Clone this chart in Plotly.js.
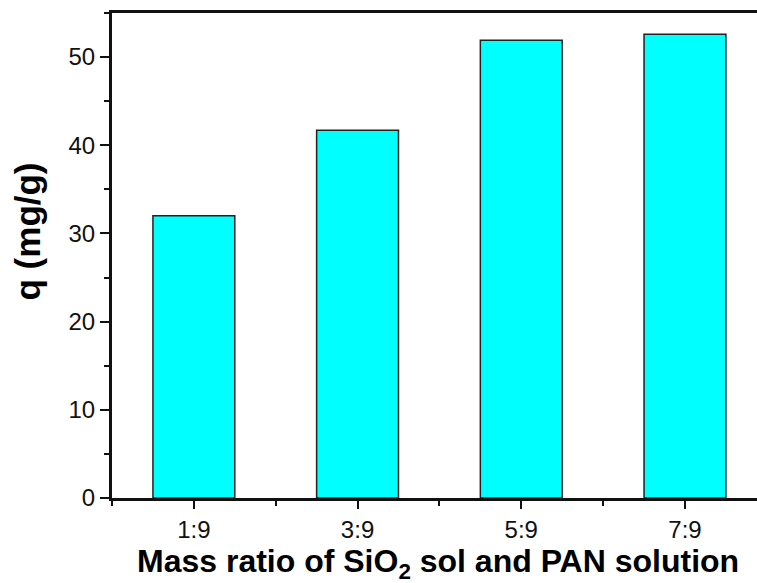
<!DOCTYPE html>
<html>
<head>
<meta charset="utf-8">
<script src="https://cdn.plot.ly/plotly-3.0.1.min.js"></script>
<style>html,body{margin:0;padding:0;background:#fff;}#chart{width:757px;height:583px;}</style>
</head>
<body>
<div id="chart"></div>
<script>
const categories = ["1:9", "3:9", "5:9", "7:9"];
const qValues = [32.0, 41.7, 51.9, 52.6];
const yTicks = [0, 10, 20, 30, 40, 50];

const xIdx = categories.map((c, i) => i);

const trace = {
  type: 'bar',
  x: xIdx,
  y: qValues,
  width: 0.5,
  marker: {color: '#00FFFF', line: {color: '#222222', width: 1.5}},
  hoverinfo: 'skip'
};

const fam = 'Liberation Sans, Arial, sans-serif';

const layout = {
  width: 757, height: 583,
  margin: {l: 112, r: 0, t: 13, b: 85},
  paper_bgcolor: '#fff', plot_bgcolor: '#fff',
  showlegend: false,
  font: {family: fam, size: 24, color: '#111'},
  xaxis: {
    range: [-0.5, 3.44],
    tickmode: 'array',
    tickvals: xIdx, ticktext: categories,
    ticks: 'outside', ticklen: 8, tickwidth: 2, tickcolor: '#111',
    tickfont: {family: fam, size: 24, color: '#111'},
    showline: true, linewidth: 3, linecolor: '#111', mirror: true,
    showgrid: false, zeroline: false,
    minor: {dtick: 0.5, tick0: -0.5, ticks: 'outside', ticklen: 5, tickwidth: 2, tickcolor: '#111', showgrid: false}
  },
  yaxis: {
    range: [0, 55],
    tickmode: 'array',
    tickvals: yTicks,
    ticks: 'outside', ticklen: 9, tickwidth: 2, tickcolor: '#111',
    tickfont: {family: fam, size: 24, color: '#111'},
    showline: true, linewidth: 3, linecolor: '#111',
    showgrid: false, zeroline: false,
    minor: {dtick: 5, tick0: 0, ticks: 'outside', ticklen: 5, tickwidth: 2, tickcolor: '#111', showgrid: false}
  },
  annotations: [
    {
      text: '<b>Mass ratio of SiO<sub>2</sub> sol and PAN solution</b>',
      xref: 'paper', yref: 'paper', x: 0.505, y: 0, yshift: -43,
      xanchor: 'center', yanchor: 'top', showarrow: false,
      font: {family: fam, size: 32, color: '#000'}
    },
    {
      text: '<b>q (mg/g)</b>',
      xref: 'paper', yref: 'paper', x: 0, xshift: -85, y: 0.5, yshift: 24,
      xanchor: 'center', yanchor: 'middle', textangle: -90, showarrow: false,
      font: {family: fam, size: 35, color: '#000'}
    }
  ]
};

Plotly.newPlot('chart', [trace], layout, {displayModeBar: false, staticPlot: true});
</script>
</body>
</html>
